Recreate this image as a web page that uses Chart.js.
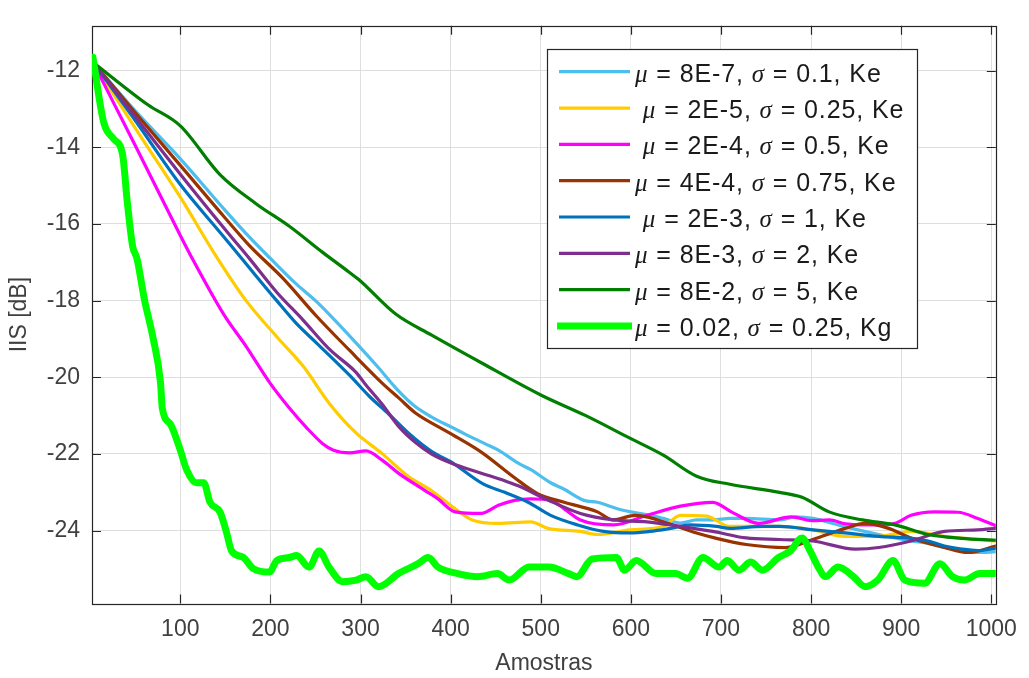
<!DOCTYPE html>
<html>
<head>
<meta charset="utf-8">
<script src="https://cdn.jsdelivr.net/npm/chart.js@4.4.0/dist/chart.umd.min.js"></script>
<style>
  html, body { margin: 0; padding: 0; background: #ffffff; }
  #wrap { width: 1029px; height: 678px; }
</style>
</head>
<body>
<div id="wrap"><canvas id="c" width="1029" height="678"></canvas></div>
<script>
// Tick positions
const xTicks = [100, 200, 300, 400, 500, 600, 700, 800, 900, 1000];
const yTicks = [-24, -22, -20, -18, -16, -14, -12];

// Legend labels (μ and σ are drawn in italics)
const labels = [
  'μ = 8E-7, σ = 0.1, Ke',
  ' μ = 2E-5, σ = 0.25, Ke',
  ' μ = 2E-4, σ = 0.5, Ke',
  'μ = 4E-4, σ = 0.75, Ke',
  ' μ = 2E-3, σ = 1, Ke',
  'μ = 8E-3, σ = 2, Ke',
  'μ = 8E-2, σ = 5, Ke',
  'μ = 0.02, σ = 0.25, Kg'
];

// IIS curves [sample, dB]
const ke1 = [[3,-11.78],[50,-13.05],[100,-14.3],[150,-15.65],[177,-16.35],[200,-16.9],[228,-17.55],[250,-18.0],[265,-18.35],[295,-19.1],[320,-19.75],[340,-20.3],[360,-20.75],[380,-21.05],[401,-21.3],[416,-21.48],[438,-21.73],[453,-21.9],[475,-22.24],[489,-22.41],[511,-22.75],[526,-22.92],[548,-23.21],[563,-23.26],[585,-23.43],[600,-23.51],[622,-23.6],[636,-23.68],[655,-23.8],[673,-23.72],[691,-23.72],[710,-23.68],[728,-23.68],[765,-23.72],[783,-23.64],[802,-23.68],[838,-23.9],[875,-24.1],[911,-24.27],[930,-24.33],[948,-24.44],[967,-24.5],[985,-24.57],[1005,-24.55]];
const ke2 = [[3,-11.78],[50,-13.5],[100,-15.3],[140,-16.85],[173,-18.0],[207,-18.94],[236,-19.7],[266,-20.7],[295,-21.45],[324,-21.99],[353,-22.58],[379,-22.96],[405,-23.43],[424,-23.72],[453,-23.81],[489,-23.77],[508,-23.94],[544,-24.02],[563,-24.1],[599,-23.98],[636,-23.89],[655,-23.6],[684,-23.62],[710,-23.89],[765,-23.89],[802,-23.98],[838,-24.15],[875,-24.15],[911,-24.02],[948,-24.15],[1005,-24.27]];
const ke3 = [[3,-11.78],[50,-13.95],[100,-16.3],[111,-16.8],[148,-18.35],[173,-19.19],[199,-20.13],[221,-20.8],[240,-21.31],[258,-21.73],[270,-21.9],[288,-21.97],[306,-21.92],[324,-22.16],[342,-22.5],[372,-22.96],[386,-23.17],[405,-23.51],[434,-23.55],[453,-23.34],[471,-23.21],[489,-23.17],[511,-23.21],[526,-23.43],[544,-23.72],[581,-23.85],[618,-23.6],[655,-23.36],[691,-23.26],[713,-23.53],[742,-23.81],[778,-23.64],[801,-23.74],[820,-23.72],[838,-23.82],[857,-23.85],[875,-23.85],[893,-23.81],[911,-23.6],[937,-23.51],[963,-23.52],[985,-23.68],[1005,-23.87]];
const ke4 = [[3,-11.78],[50,-13.1],[100,-14.47],[150,-15.85],[177,-16.57],[214,-17.42],[251,-18.4],[288,-19.3],[324,-20.15],[343,-20.55],[361,-20.93],[398,-21.44],[434,-21.95],[471,-22.62],[497,-23.04],[526,-23.26],[563,-23.51],[580,-23.72],[605,-23.6],[621,-23.66],[636,-23.77],[658,-23.94],[673,-24.06],[695,-24.2],[728,-24.36],[772,-24.44],[802,-24.23],[838,-23.94],[860,-23.81],[886,-23.94],[911,-24.19],[948,-24.44],[974,-24.57],[1005,-24.4]];
const ke5 = [[3,-11.78],[50,-13.3],[100,-14.97],[147,-16.3],[170,-16.95],[185,-17.38],[207,-18.0],[229,-18.6],[251,-19.1],[288,-19.95],[310,-20.5],[331,-20.95],[353,-21.45],[380,-21.95],[400,-22.2],[436,-22.78],[460,-23.0],[486,-23.26],[511,-23.6],[541,-23.85],[570,-24.02],[599,-24.06],[621,-24.02],[644,-23.94],[666,-23.85],[695,-23.89],[710,-23.94],[746,-23.89],[765,-23.89],[802,-23.98],[838,-24.06],[875,-24.15],[911,-24.2],[930,-24.27],[948,-24.4],[967,-24.48],[985,-24.52],[1005,-24.46]];
const ke6 = [[3,-11.78],[50,-13.2],[100,-14.7],[150,-16.15],[177,-16.91],[207,-17.78],[236,-18.5],[266,-19.28],[295,-19.87],[306,-20.2],[324,-20.7],[343,-21.3],[361,-21.7],[379,-22.0],[401,-22.24],[434,-22.5],[460,-22.7],[475,-22.83],[508,-23.2],[544,-23.55],[581,-23.72],[618,-23.77],[655,-23.89],[691,-24.02],[728,-24.19],[765,-24.23],[802,-24.27],[849,-24.48],[875,-24.44],[911,-24.27],[948,-24.02],[985,-23.98],[1005,-23.94]];
const ke7 = [[3,-11.78],[64,-12.89],[100,-13.44],[144,-14.71],[184,-15.47],[221,-16.06],[258,-16.74],[287,-17.25],[298,-17.45],[339,-18.35],[379,-18.9],[434,-19.62],[500,-20.46],[550,-21.0],[600,-21.6],[636,-22.03],[673,-22.58],[710,-22.79],[765,-23.0],[790,-23.13],[820,-23.51],[857,-23.72],[893,-23.85],[930,-24.1],[967,-24.2],[1005,-24.25]];
const kg = [[3,-11.65],[15,-13.35],[26,-13.78],[36,-14.2],[41,-15.39],[47,-16.57],[52,-16.91],[60,-17.95],[70,-19.0],[78,-20.13],[80,-20.8],[89,-21.22],[100,-21.9],[107,-22.41],[118,-22.75],[126,-22.75],[133,-23.26],[144,-23.51],[151,-24.02],[157,-24.53],[170,-24.7],[181,-24.99],[199,-25.08],[207,-24.78],[221,-24.7],[229,-24.65],[243,-24.95],[254,-24.53],[265,-24.95],[280,-25.33],[295,-25.29],[306,-25.2],[320,-25.46],[342,-25.12],[364,-24.86],[375,-24.7],[386,-24.95],[408,-25.12],[430,-25.2],[452,-25.12],[465,-25.29],[487,-24.95],[509,-24.95],[531,-25.12],[540,-25.2],[557,-24.74],[584,-24.7],[593,-25.03],[606,-24.78],[628,-25.12],[650,-25.12],[663,-25.24],[680,-24.7],[698,-24.95],[707,-24.78],[720,-25.03],[733,-24.82],[746,-25.03],[764,-24.7],[777,-24.53],[790,-24.19],[799,-24.53],[808,-24.95],[816,-25.2],[830,-24.95],[847,-25.2],[860,-25.46],[874,-25.29],[891,-24.78],[904,-25.29],[926,-25.37],[943,-24.86],[957,-25.2],[970,-25.29],[987,-25.12],[1005,-25.12]];

const series = [ke1, ke2, ke3, ke4, ke5, ke6, ke7, kg];
const colors = ['#4DBEEE', '#FFCC00', '#FF00FF', '#993300', '#0072BD', '#7E2F8E', '#007F00', '#00FF00'];
const widths = [3.2, 3.2, 3.2, 3.2, 3.2, 3.2, 3.2, 7];

const TICK_FONT = { family: "'Liberation Sans', Arial, sans-serif", size: 23 };
const AXIS_COLOR = '#262626';

// Box around the axes with inward tick marks on all four sides
const framePlugin = {
  id: 'frame',
  beforeDatasetsDraw(chart) {
    const { ctx, chartArea: a, scales } = chart;
    const tl = 9;
    ctx.save();
    ctx.strokeStyle = AXIS_COLOR;
    ctx.lineWidth = 1.2;
    ctx.beginPath();
    xTicks.forEach(v => {
      const px = Math.round(scales.x.getPixelForValue(v)) + 0.5;
      ctx.moveTo(px, a.bottom); ctx.lineTo(px, a.bottom - tl);
      ctx.moveTo(px, a.top); ctx.lineTo(px, a.top + tl);
    });
    yTicks.forEach(v => {
      const py = Math.round(scales.y.getPixelForValue(v)) + 0.5;
      ctx.moveTo(a.left, py); ctx.lineTo(a.left + tl, py);
      ctx.moveTo(a.right, py); ctx.lineTo(a.right - tl, py);
    });
    ctx.stroke();
    ctx.strokeRect(Math.round(a.left) + 0.5, Math.round(a.top) + 0.5,
                   Math.round(a.right - a.left), Math.round(a.bottom - a.top));
    ctx.restore();
  }
};

// Boxed legend with italic Greek symbols
const legendPlugin = {
  id: 'boxLegend',
  afterDraw(chart) {
    const ctx = chart.ctx;
    const box = { x: 547.5, y: 49.5, w: 370, h: 299 };
    const rowY0 = 71.7, rowStep = 36.33;
    const lineX0 = 559, lineX1 = 630, textX = 635, spacing = 0.9;
    ctx.save();
    ctx.fillStyle = '#ffffff';
    ctx.fillRect(box.x, box.y, box.w, box.h);
    ctx.strokeStyle = AXIS_COLOR;
    ctx.lineWidth = 1.2;
    ctx.strokeRect(box.x, box.y, box.w, box.h);
    chart.data.datasets.forEach((ds, i) => {
      const y = rowY0 + rowStep * i;
      ctx.strokeStyle = ds.borderColor;
      ctx.lineWidth = ds.borderWidth;
      ctx.lineCap = 'butt';
      ctx.beginPath();
      ctx.moveTo(lineX0 - (ds.borderWidth > 4 ? 2 : 0), y);
      ctx.lineTo(lineX1 + (ds.borderWidth > 4 ? 2 : 0), y);
      ctx.stroke();
      let x = textX;
      ctx.fillStyle = '#1a1a1a';
      ctx.textBaseline = 'alphabetic';
      ctx.textAlign = 'left';
      for (const ch of ds.label) {
        const greek = (ch === 'μ' || ch === 'σ');
        ctx.font = greek ? "italic 25px 'Liberation Serif', serif"
                         : "25px 'Liberation Sans', Arial, sans-serif";
        ctx.fillText(ch, x, y + 10);
        x += ctx.measureText(ch).width + spacing;
      }
    });
    ctx.restore();
  }
};

const datasets = series.map((s, i) => ({
  label: labels[i],
  data: s.map(p => ({ x: p[0], y: p[1] })),
  borderColor: colors[i],
  backgroundColor: colors[i],
  borderWidth: widths[i],
  pointRadius: 0,
  cubicInterpolationMode: 'monotone',
  borderJoinStyle: 'round',
  borderCapStyle: 'round',
  fill: false,
  order: series.length - i
}));

new Chart(document.getElementById('c'), {
  type: 'line',
  data: { datasets },
  options: {
    responsive: false,
    devicePixelRatio: 1,
    animation: false,
    events: [],
    layout: { padding: { left: 0, top: 10, right: 27, bottom: 0 } },
    plugins: { legend: { display: false }, tooltip: { enabled: false } },
    scales: {
      x: {
        type: 'linear',
        min: 2, max: 1005,
        afterBuildTicks: s => { s.ticks = xTicks.map(v => ({ value: v })); },
        afterFit: s => { s.height = 74.5; },
        grid: { color: '#dedede', lineWidth: 1, drawTicks: false },
        border: { display: false },
        ticks: { color: '#404040', font: TICK_FONT, padding: 12, maxRotation: 0, autoSkip: false,
                 callback: v => String(v) },
        title: { display: true, text: 'Amostras', color: '#404040', font: TICK_FONT, padding: { top: 0, bottom: 1 } }
      },
      y: {
        type: 'linear',
        min: -25.9, max: -10.83,
        afterBuildTicks: s => { s.ticks = yTicks.map(v => ({ value: v })); },
        afterFit: s => { s.width = 92; },
        grid: { color: '#dedede', lineWidth: 1, drawTicks: false },
        border: { display: false },
        ticks: { color: '#404040', font: TICK_FONT, padding: 12, callback: v => String(v) },
        title: { display: true, text: 'IIS [dB]', color: '#404040', font: TICK_FONT, padding: { top: 6, bottom: 0 } }
      }
    }
  },
  plugins: [framePlugin, legendPlugin]
});
</script>
</body>
</html>
